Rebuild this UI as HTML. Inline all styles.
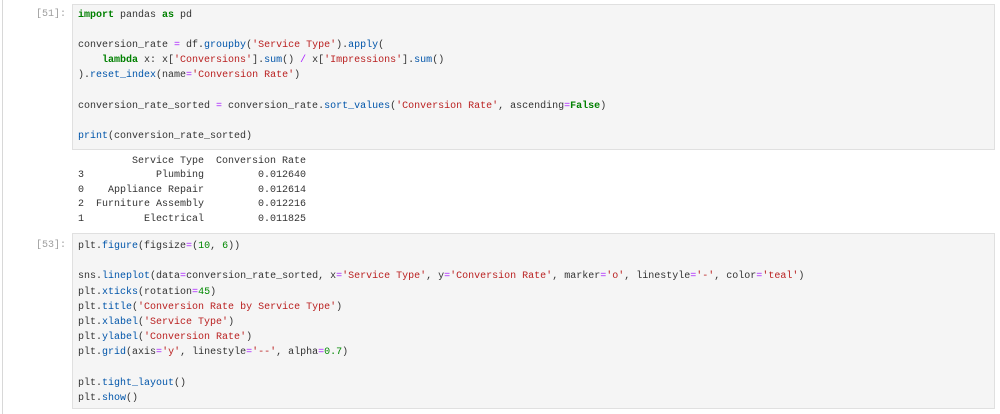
<!DOCTYPE html>
<html><head><meta charset="utf-8"><style>
html,body{margin:0;padding:0;background:#fff;width:1000px;height:414px;overflow:hidden;position:relative}
.m{font-family:"Liberation Mono",monospace;font-size:10px;white-space:pre;position:absolute;line-height:15px;color:#333}
.cell{position:absolute;left:72px;width:923px;background:#f5f5f5;border:1px solid #e0e0e0;box-sizing:border-box}
.p{color:#9e9e9e}
.k{color:#008000;font-weight:bold}
.s{color:#ba2121}
.f{color:#0055aa}
.o{color:#aa22ff}
.n{color:#008800}
.bar{position:absolute;left:2px;top:0;width:1px;height:414px;background:#d8d8d8}
</style></head><body>
<div class="bar"></div>
<div class="cell" style="top:4px;height:146px"></div>
<div class="cell" style="top:233px;height:176px"></div>
<div class="m p" style="left:36px;top:7px">[51]:</div>
<div class="m" style="left:78px;top:8px"><span class="k">import</span> pandas <span class="k">as</span> pd</div>
<div class="m" style="left:78px;top:38px">conversion_rate <span class="o">=</span> df.<span class="f">groupby</span>(<span class="s">'Service Type'</span>).<span class="f">apply</span>(</div>
<div class="m" style="left:78px;top:53px">    <span class="k">lambda</span> x: x[<span class="s">'Conversions'</span>].<span class="f">sum</span>() <span class="o">/</span> x[<span class="s">'Impressions'</span>].<span class="f">sum</span>()</div>
<div class="m" style="left:78px;top:68px">).<span class="f">reset_index</span>(name<span class="o">=</span><span class="s">'Conversion Rate'</span>)</div>
<div class="m" style="left:78px;top:99px">conversion_rate_sorted <span class="o">=</span> conversion_rate.<span class="f">sort_values</span>(<span class="s">'Conversion Rate'</span>, ascending<span class="o">=</span><span class="k">False</span>)</div>
<div class="m" style="left:78px;top:129px"><span class="f">print</span>(conversion_rate_sorted)</div>
<div class="m" style="left:78px;top:155px;line-height:14.4px">         Service Type  Conversion Rate
3            Plumbing         0.012640
0    Appliance Repair         0.012614
2  Furniture Assembly         0.012216
1          Electrical         0.011825</div>
<div class="m p" style="left:36px;top:238px">[53]:</div>
<div class="m" style="left:78px;top:239px;line-height:15.2px">plt.<span class="f">figure</span>(figsize<span class="o">=</span>(<span class="n">10</span>, <span class="n">6</span>))

sns.<span class="f">lineplot</span>(data<span class="o">=</span>conversion_rate_sorted, x<span class="o">=</span><span class="s">'Service Type'</span>, y<span class="o">=</span><span class="s">'Conversion Rate'</span>, marker<span class="o">=</span><span class="s">'o'</span>, linestyle<span class="o">=</span><span class="s">'-'</span>, color<span class="o">=</span><span class="s">'teal'</span>)
plt.<span class="f">xticks</span>(rotation<span class="o">=</span><span class="n">45</span>)
plt.<span class="f">title</span>(<span class="s">'Conversion Rate by Service Type'</span>)
plt.<span class="f">xlabel</span>(<span class="s">'Service Type'</span>)
plt.<span class="f">ylabel</span>(<span class="s">'Conversion Rate'</span>)
plt.<span class="f">grid</span>(axis<span class="o">=</span><span class="s">'y'</span>, linestyle<span class="o">=</span><span class="s">'--'</span>, alpha<span class="o">=</span><span class="n">0.7</span>)

plt.<span class="f">tight_layout</span>()
plt.<span class="f">show</span>()</div>
</body></html>
